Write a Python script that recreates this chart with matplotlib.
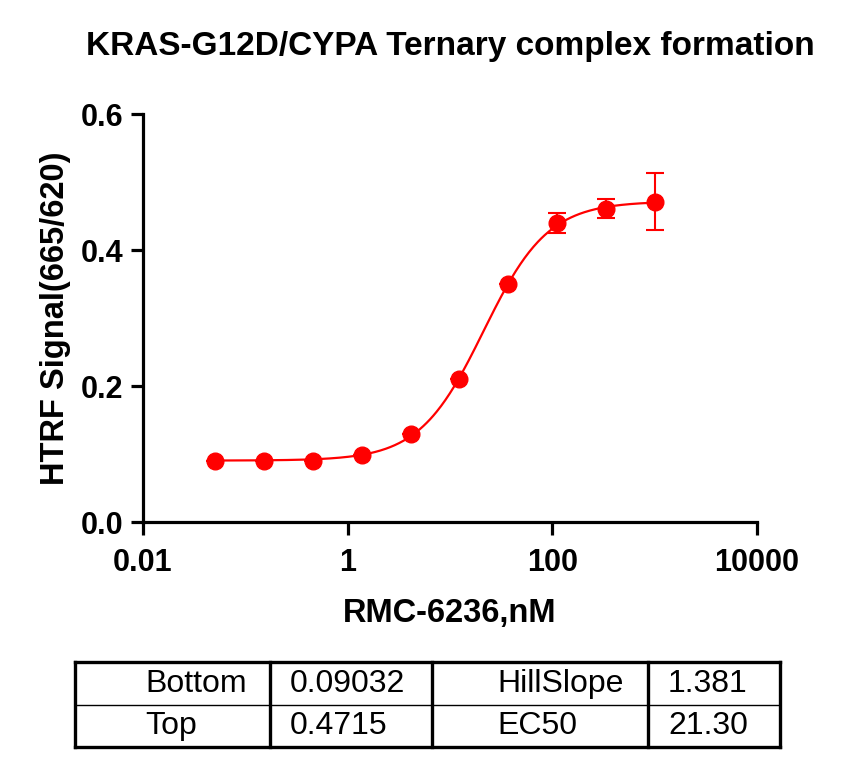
import numpy as np
import matplotlib
matplotlib.use("Agg")
import matplotlib.pyplot as plt
from matplotlib.lines import Line2D

plt.rcParams['font.family'] = ['Liberation Sans', 'DejaVu Sans']

# ---- data ----
conc = [0.0508, 0.152, 0.457, 1.372, 4.115, 12.35, 37.04, 111.1, 333.3, 1000.0]
signal = [0.089, 0.089, 0.089, 0.099, 0.129, 0.210, 0.350, 0.440, 0.461, 0.471]
sd = [0.0, 0.0, 0.0, 0.0, 0.0, 0.0, 0.0, 0.015, 0.014, 0.042]

fit_names = ["Bottom", "Top", "HillSlope", "EC50"]
fit_values = [0.09032, 0.4715, 1.381, 21.30]
fit_labels = ["0.09032", "0.4715", "1.381", "21.30"]

x_ticks = [0.01, 1, 100, 10000]
x_ticklabels = ["0.01", "1", "100", "10000"]
y_ticks = [0.0, 0.2, 0.4, 0.6]
y_ticklabels = ["0.0", "0.2", "0.4", "0.6"]

title = "KRAS-G12D/CYPA Ternary complex formation"
xlabel = "RMC-6236,nM"
ylabel = "HTRF Signal(665/620)"

red = "#ff0000"

W, H = 852, 770
fig = plt.figure(figsize=(W / 100, H / 100), dpi=100)
ax = fig.add_axes([143 / W, 1 - 522 / H, (757 - 143) / W, (522 - 114) / H])

bottom, top, hill, ec50 = fit_values
xs = np.logspace(np.log10(conc[0]), np.log10(conc[-1]), 400)
ys = bottom + (top - bottom) / (1 + 10 ** ((np.log10(ec50) - np.log10(xs)) * hill))
ax.plot(xs, ys, color=red, lw=1.6, zorder=2)

ax.errorbar(conc, signal, yerr=sd, fmt='o', color=red, ms=12, ecolor=red,
            elinewidth=1.5, capsize=6.5, capthick=1.5, zorder=3)

ax.set_xscale('log')
ax.set_xlim(0.01, 10000)
ax.set_ylim(0, 0.6)
ax.set_xticks(x_ticks)
ax.set_xticklabels(x_ticklabels)
ax.xaxis.set_minor_locator(matplotlib.ticker.NullLocator())
ax.set_yticks(y_ticks)
ax.set_yticklabels(y_ticklabels)

for s in ['top', 'right']:
    ax.spines[s].set_visible(False)
for s in ['left', 'bottom']:
    ax.spines[s].set_linewidth(2.3)
ax.tick_params(axis='both', which='major', width=2.3, length=9, direction='out',
               labelsize=22)
ax.tick_params(axis='x', pad=10)
ax.tick_params(axis='y', pad=5)
for lab in ax.get_xticklabels() + ax.get_yticklabels():
    lab.set_fontweight('bold')

ax.set_xlabel(xlabel, fontsize=23.5, fontweight='bold', labelpad=14)
ax.set_ylabel(ylabel, fontsize=23.5, fontweight='bold', labelpad=7)
fig.text(450 / W, 1 - 47 / H, title, ha='center', va='center', fontsize=24,
         fontweight='bold')

# ---- table ----
def px(x, y):
    return x / W, 1 - y / H

tl, tr = 75, 780
ttop, tmid, tbot = 662, 705, 747
cols = [tl, 270, 432, 648, tr]
thick = 2.4
fig.add_artist(Line2D(*zip(px(tl, ttop), px(tr, ttop)), color='black', lw=thick, transform=fig.transFigure))
fig.add_artist(Line2D(*zip(px(tl, tbot), px(tr, tbot)), color='black', lw=thick, transform=fig.transFigure))
fig.add_artist(Line2D(*zip(px(tl, tmid), px(tr, tmid)), color='black', lw=1.0, transform=fig.transFigure))
for c in cols:
    fig.add_artist(Line2D(*zip(px(c, ttop), px(c, tbot)), color='black', lw=thick,
                          transform=fig.transFigure, solid_capstyle='projecting'))

cells = [
    (145, 684, fit_names[0]), (290, 684, fit_labels[0]),
    (497, 684, fit_names[2]), (668, 684, fit_labels[2]),
    (145, 726, fit_names[1]), (290, 726, fit_labels[1]),
    (497, 726, fit_names[3]), (668, 726, fit_labels[3]),
]
for x, y, t in cells:
    fig.text(*px(x, y), t, ha='left', va='center', fontsize=23)

fig.savefig("out.png", dpi=100)
